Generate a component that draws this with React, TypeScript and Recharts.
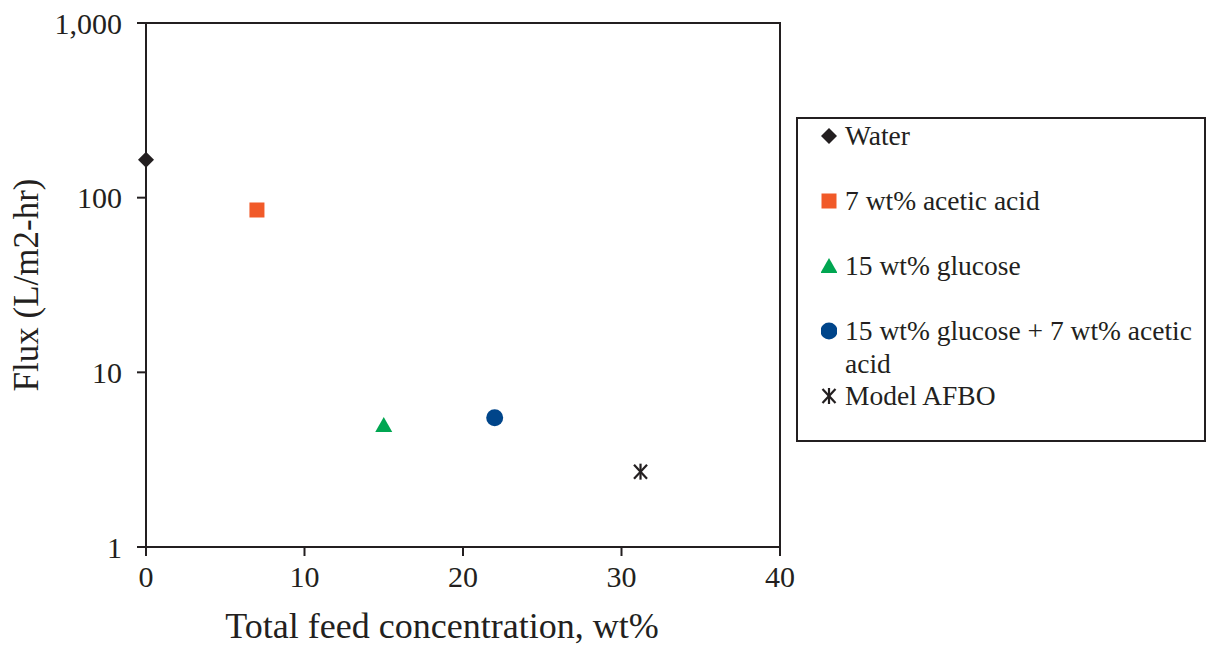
import { ScatterChart, Scatter, XAxis, YAxis, ReferenceArea, Legend } from "recharts"

// one point per series
const seriesNames = [
  "Water",
  "7 wt% acetic acid",
  "15 wt% glucose",
  "15 wt% glucose + 7 wt% acetic acid",
  "Model AFBO"
]
const feedConc = [0, 7, 15, 22, 31.2]
const flux = [165, 85, 5, 5.5, 2.7]
const markerColors = ["#231f20", "#f15a29", "#00a651", "#00458a", "#231f20"]
const markerKinds = ["diamond", "square", "triangle", "circle", "asterisk"]

const xTicks = [0, 10, 20, 30, 40]
const yTicks = [1, 10, 100, 1000]

const ink = "#231f20"
const serif = "'Liberation Serif', 'Times New Roman', serif"

function Marker({ kind, cx, cy, color }: { kind: string; cx: number; cy: number; color: string }) {
  if (kind === "diamond") {
    return <path d={`M${cx},${cy - 8}L${cx + 8},${cy}L${cx},${cy + 8}L${cx - 8},${cy}Z`} fill={color} />
  }
  if (kind === "square") {
    return <rect x={cx - 7.5} y={cy - 7.5} width={15} height={15} fill={color} />
  }
  if (kind === "triangle") {
    return <path d={`M${cx},${cy - 8}L${cx + 8.5},${cy + 7}L${cx - 8.5},${cy + 7}Z`} fill={color} />
  }
  if (kind === "circle") {
    return <circle cx={cx} cy={cy} r={8.5} fill={color} />
  }
  return (
    <g stroke={color} strokeWidth={2.2}>
      <line x1={cx} y1={cy - 8} x2={cx} y2={cy + 8} />
      <line x1={cx - 6.5} y1={cy - 7} x2={cx + 6.5} y2={cy + 7} />
      <line x1={cx - 6.5} y1={cy + 7} x2={cx + 6.5} y2={cy - 7} />
    </g>
  )
}

function LegendBox({ payload }: any) {
  // keep the series order, not the alphabetical one
  const items = [...((payload || []) as any[])].sort(
    (a, b) => seriesNames.indexOf(a.value) - seriesNames.indexOf(b.value)
  )
  return (
    <div
      style={{
        boxSizing: "border-box",
        width: 410,
        height: 325,
        border: `2px solid ${ink}`,
        paddingTop: 1,
        paddingLeft: 23,
        fontFamily: serif,
        fontSize: 27.5,
        color: ink,
        lineHeight: "32.5px",
        background: "#fff"
      }}
    >
      {items.map((it) => {
        const i = seriesNames.indexOf(it.value)
        return (
          <div key={it.value} style={{ display: "flex", alignItems: "flex-start", minHeight: 65 }}>
            <svg width={16} height={32} style={{ flex: "none" }}>
              <Marker kind={markerKinds[i]} cx={8} cy={16} color={markerColors[i]} />
            </svg>
            <span style={{ marginLeft: 8, width: 355 }}>{it.value}</span>
          </div>
        )
      })}
    </div>
  )
}

export default function App() {
  return (
    <div>
      <style>{`body{margin:0;background:#fff}`}</style>
      <ScatterChart
        width={1207}
        height={647}
        margin={{ top: 23, right: 427, bottom: 0, left: 0 }}
        style={{ fontFamily: serif }}
      >
        <XAxis
          type="number"
          dataKey="x"
          domain={[0, 40]}
          ticks={xTicks}
          height={100}
          axisLine={{ stroke: ink, strokeWidth: 2 }}
          tickLine={{ stroke: ink, strokeWidth: 2 }}
          tickSize={9}
          tickMargin={10}
          tick={{ fill: ink, fontSize: 30 }}
          label={{
            value: "Total feed concentration, wt%",
            position: "insideBottom",
            offset: 9,
            dx: -21,
            fill: ink,
            fontSize: 36
          }}
        />
        <YAxis
          type="number"
          dataKey="y"
          scale="log"
          domain={[1, 1000]}
          ticks={yTicks}
          allowDataOverflow
          width={146}
          axisLine={{ stroke: ink, strokeWidth: 2 }}
          tickLine={{ stroke: ink, strokeWidth: 2 }}
          tickSize={9}
          tickMargin={15}
          tick={{ fill: ink, fontSize: 30 }}
          tickFormatter={(v: number) => v.toLocaleString("en-US")}
          label={{
            value: "Flux (L/m2-hr)",
            angle: -90,
            position: "insideLeft",
            offset: 26,
            fill: ink,
            fontSize: 35,
            style: { textAnchor: "middle" }
          }}
        />
        <ReferenceArea x1={0} x2={40} y1={1} y2={1000} fill="none" stroke={ink} strokeWidth={2} />
        {seriesNames.map((name, i) => (
          <Scatter
            key={name}
            name={name}
            data={[{ x: feedConc[i], y: flux[i] }]}
            fill={markerColors[i]}
            isAnimationActive={false}
            shape={(p: any) => <Marker kind={markerKinds[i]} cx={p.cx} cy={p.cy} color={markerColors[i]} />}
          />
        ))}
        <Legend
          layout="horizontal"
          verticalAlign="middle"
          align="center"
          content={LegendBox}
          wrapperStyle={{ position: "absolute", left: 796, top: 117, width: 410, height: 325 }}
        />
      </ScatterChart>
    </div>
  )
}
